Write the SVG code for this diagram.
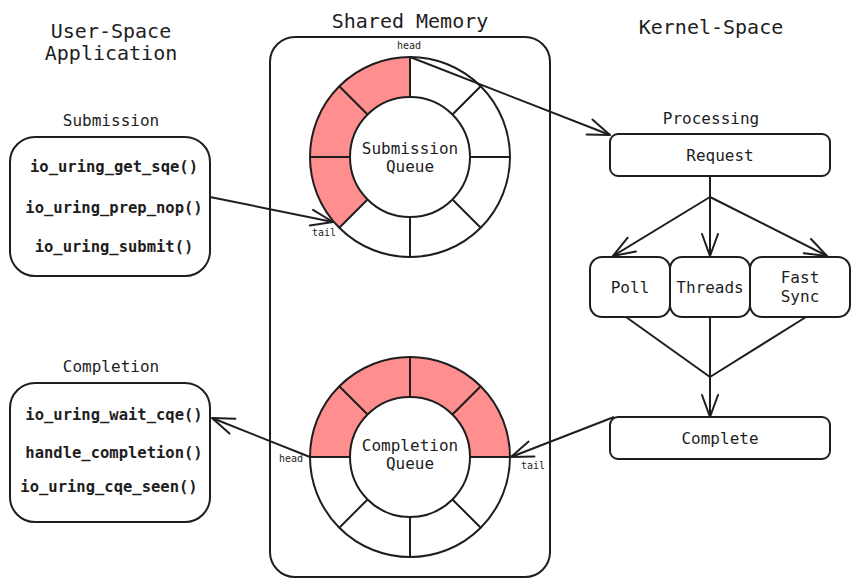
<svg xmlns="http://www.w3.org/2000/svg" width="860" height="587" viewBox="0 0 860 587">
<defs>
<style>
.t{font-family:"DejaVu Sans Mono","Liberation Mono",monospace;fill:#1e1e1e;text-anchor:middle}
.h{font-size:20px}
.l{font-size:16px}
.f{font-size:15.5px;font-weight:bold}
.s{font-size:10px}
.b{fill:none;stroke:#1e1e1e;stroke-width:2}
.w{fill:#fff;stroke:#1e1e1e;stroke-width:2}
.red{fill:#ff8f8f;stroke:none}
.c{fill:none;stroke:#1e1e1e;stroke-width:2}
</style>
<marker id="ah" markerUnits="userSpaceOnUse" viewBox="-26 -12 28 24" markerWidth="28" markerHeight="24" refX="0" refY="0" orient="auto">
<path d="M-22,-8 L0,0 L-22,8" fill="none" stroke="#1e1e1e" stroke-width="2" stroke-linecap="round" stroke-linejoin="round"/>
</marker>
</defs>
<rect width="860" height="587" fill="#fff"/>

<g id="titles">
<text class="t h" x="111" y="38">User-Space</text>
<text class="t h" x="111" y="60">Application</text>
<text class="t h" x="410" y="28">Shared Memory</text>
<text class="t h" x="711" y="34">Kernel-Space</text>
<text class="t l" x="111" y="126">Submission</text>
<text class="t l" x="111" y="372">Completion</text>
<text class="t l" x="711" y="124">Processing</text>
</g>

<g id="shared-memory">
<rect class="b" x="270" y="37" width="280" height="540" rx="25"/>
</g>

<g id="submission">
<rect class="w" x="10" y="137" width="200" height="139" rx="25"/>
<text class="t f" x="114" y="171.5">io_uring_get_sqe()</text>
<text class="t f" x="114" y="213">io_uring_prep_nop()</text>
<text class="t f" x="114" y="251.5">io_uring_submit()</text>
</g>

<g id="completion">
<rect class="w" x="10" y="383" width="200" height="139" rx="25"/>
<text class="t f" x="114" y="420">io_uring_wait_cqe()</text>
<text class="t f" x="114" y="458">handle_completion()</text>
<text class="t f" x="109" y="491.5">io_uring_cqe_seen()</text>
</g>

<g id="submission-queue">
<circle cx="410" cy="157" r="100" fill="#fff"/>
<path class="red" d="M339.29 227.71 A100 100 0 0 1 410 57 L410 97 A60 60 0 0 0 367.57 199.43 Z"/>
<circle class="b" cx="410" cy="157" r="100"/>
<circle class="w" cx="410" cy="157" r="60"/>
<path class="b" d="M470 157 L510 157 M452.43 199.43 L480.71 227.71 M410 217 L410 257 M367.57 199.43 L339.29 227.71 M350 157 L310 157 M367.57 114.57 L339.29 86.29 M410 97 L410 57 M452.43 114.57 L480.71 86.29"/>
<text class="t l" x="410" y="154">Submission</text>
<text class="t l" x="410" y="172">Queue</text>
<text class="t s" x="409" y="49">head</text>
<text class="t s" x="324" y="236">tail</text>
</g>

<g id="completion-queue">
<circle cx="410" cy="457" r="100" fill="#fff"/>
<path class="red" d="M310 457 A100 100 0 0 1 510 457 L470 457 A60 60 0 0 0 350 457 Z"/>
<circle class="b" cx="410" cy="457" r="100"/>
<circle class="w" cx="410" cy="457" r="60"/>
<path class="b" d="M470 457 L510 457 M452.43 499.43 L480.71 527.71 M410 517 L410 557 M367.57 499.43 L339.29 527.71 M350 457 L310 457 M367.57 414.57 L339.29 386.29 M410 397 L410 357 M452.43 414.57 L480.71 386.29"/>
<text class="t l" x="410" y="451">Completion</text>
<text class="t l" x="410" y="468.5">Queue</text>
<text class="t s" x="291" y="462">head</text>
<text class="t s" x="533" y="469">tail</text>
</g>

<g id="request">
<rect class="w" x="610" y="134" width="220" height="42" rx="8"/>
<text class="t l" x="720" y="161">Request</text>
</g>
<g id="poll">
<rect class="w" x="590" y="257" width="80" height="60" rx="12"/>
<text class="t l" x="630" y="293">Poll</text>
</g>
<g id="threads">
<rect class="w" x="670" y="257" width="80" height="60" rx="12"/>
<text class="t l" x="710" y="293">Threads</text>
</g>
<g id="fast-sync">
<rect class="w" x="750" y="257" width="100" height="60" rx="12"/>
<text class="t l" x="800" y="283">Fast</text>
<text class="t l" x="800" y="302">Sync</text>
</g>
<g id="complete">
<rect class="w" x="610" y="417" width="220" height="42" rx="8"/>
<text class="t l" x="720" y="443.5">Complete</text>
</g>

<g id="connectors">
<line class="c" x1="210" y1="197" x2="333" y2="222" marker-end="url(#ah)"/>
<line class="c" x1="410" y1="57" x2="610" y2="135" marker-end="url(#ah)"/>
<line class="c" x1="710" y1="176" x2="710" y2="197"/>
<line class="c" x1="710" y1="197" x2="613" y2="256" marker-end="url(#ah)"/>
<line class="c" x1="710" y1="197" x2="710" y2="256" marker-end="url(#ah)"/>
<line class="c" x1="710" y1="197" x2="827" y2="256" marker-end="url(#ah)"/>
<line class="c" x1="626" y1="317" x2="710" y2="377"/>
<line class="c" x1="710" y1="317" x2="710" y2="377"/>
<line class="c" x1="806" y1="317" x2="710" y2="377"/>
<line class="c" x1="710" y1="377" x2="710" y2="417" marker-end="url(#ah)"/>
<line class="c" x1="614" y1="417" x2="511" y2="457" marker-end="url(#ah)"/>
<line class="c" x1="310" y1="457" x2="212" y2="418" marker-end="url(#ah)"/>
</g>
</svg>
